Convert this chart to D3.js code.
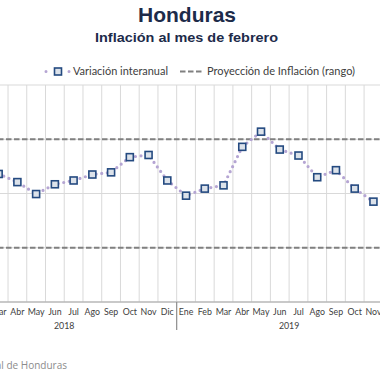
<!DOCTYPE html>
<html><head><meta charset="utf-8">
<script src="https://cdn.jsdelivr.net/npm/d3@7"></script>
<style>html,body{margin:0;padding:0;background:#fff;}svg{display:block;}</style>
</head><body><svg id="c" width="380" height="380"></svg>
<script>
const months = ["Ene","Feb","Mar","Abr","May","Jun","Jul","Ago","Sep","Oct","Nov","Dic"];
const years = ["2018","2019"];
const categories = years.flatMap(y => months.map(m => m + " " + y));
const seriesMonths = ["Mar 2018","Abr 2018","May 2018","Jun 2018","Jul 2018","Ago 2018","Sep 2018","Oct 2018","Nov 2018","Dic 2018",
  "Ene 2019","Feb 2019","Mar 2019","Abr 2019","May 2019","Jun 2019","Jul 2019","Ago 2019","Sep 2019","Oct 2019","Nov 2019"];
const seriesValues = [4.36,4.21,3.99,4.17,4.24,4.35,4.39,4.67,4.71,4.24,
  3.96,4.09,4.15,4.86,5.14,4.81,4.70,4.30,4.43,4.09,3.85];
const rangeLow = 3.0, rangeHigh = 5.0;
const yTicks = [2,3,4,5,6];

const svg = d3.select("#c");
const plotTop = 85, plotBottom = 302;
const x = d3.scaleBand().domain(categories).range([-48.2, -48.2 + 24*18.74]).padding(0);
const y = d3.scaleLinear().domain([2,6]).range([plotBottom, plotTop]);
const bw = x.bandwidth();

// Title
svg.append("text").attr("x",187).attr("y",22).attr("text-anchor","middle")
  .attr("font-family","Liberation Sans, Arial, sans-serif").attr("font-weight","bold")
  .attr("font-size",21).attr("fill","#1d2b4a").text("Honduras");
svg.append("text").attr("x",95).attr("y",41.5)
  .attr("font-family","Liberation Sans, Arial, sans-serif").attr("font-weight","bold")
  .attr("font-size",13.5).attr("fill","#1d2b4a")
  .attr("textLength",183).attr("lengthAdjust","spacingAndGlyphs").text("Inflación al mes de febrero");

// Legend
const lf = "Lato, 'Noto Sans', sans-serif";
const leg = svg.append("g");
leg.append("line").attr("x1",46).attr("x2",70).attr("y1",71.5).attr("y2",71.5)
  .attr("stroke","#b5a5d3").attr("stroke-width",3).attr("stroke-linecap","round").attr("stroke-dasharray","0,11.5");
leg.append("rect").attr("x",54.5).attr("y",68).attr("width",7).attr("height",7)
  .attr("fill","#dce2ea").attr("stroke","#244a80").attr("stroke-width",1.6);
leg.append("text").attr("x",73).attr("y",75).attr("font-family",lf).attr("font-size",10.5)
  .attr("fill","#404040").attr("textLength",95).attr("lengthAdjust","spacingAndGlyphs").text("Variación interanual");
leg.append("line").attr("x1",180).attr("x2",202).attr("y1",71.5).attr("y2",71.5)
  .attr("stroke","#808080").attr("stroke-width",2).attr("stroke-dasharray","5.5,2.5");
leg.append("text").attr("x",207).attr("y",75).attr("font-family",lf).attr("font-size",10.5)
  .attr("fill","#404040").attr("textLength",148).attr("lengthAdjust","spacingAndGlyphs").text("Proyección de Inflación (rango)");

// Gridlines
const grid = svg.append("g");
grid.selectAll("line.h").data(yTicks).join("line")
  .attr("x1",-50).attr("x2",420).attr("y1",d=>y(d)).attr("y2",d=>y(d))
  .attr("stroke","#d9d9d9").attr("stroke-width",1);
grid.selectAll("line.v").data(categories.slice(1)).join("line")
  .attr("x1",d=>x(d)).attr("x2",d=>x(d)).attr("y1",plotTop).attr("y2",plotBottom)
  .attr("stroke","#d9d9d9").attr("stroke-width",1);

// Range dashed lines
svg.append("g").selectAll("line").data([rangeLow, rangeHigh]).join("line")
  .attr("x1",-50).attr("x2",420).attr("y1",d=>y(d)).attr("y2",d=>y(d))
  .attr("stroke","#808080").attr("stroke-width",2).attr("stroke-dasharray","5.5,2.5");

// X axis
svg.append("line").attr("x1",-50).attr("x2",420).attr("y1",plotBottom).attr("y2",plotBottom)
  .attr("stroke","#a6a6a6").attr("stroke-width",1);
svg.append("line").attr("x1",x("Ene 2019")).attr("x2",x("Ene 2019")).attr("y1",plotBottom).attr("y2",330)
  .attr("stroke","#8c8c8c").attr("stroke-width",1.2);
svg.append("g").selectAll("text").data(categories.filter(c => x(c)+bw > 0 && x(c) < 380)).join("text")
  .attr("x",d=>x(d)+bw/2).attr("y",315).attr("text-anchor","middle")
  .attr("font-family",lf).attr("font-size",8.8).attr("fill","#404040")
  .text(d=>d.split(" ")[0]);
svg.append("g").selectAll("text").data(years).join("text")
  .attr("x",yr=>(x("Ene "+yr)+x("Dic "+yr)+bw)/2).attr("y",328.5).attr("text-anchor","middle")
  .attr("font-family",lf).attr("font-size",8.8).attr("fill","#404040").text(d=>d);

// Series
const pts = seriesMonths.map((m,i)=>({m, v:seriesValues[i]}));
svg.append("path").datum(pts)
  .attr("d", d3.line().x(d=>x(d.m)+bw/2).y(d=>y(d.v)))
  .attr("fill","none").attr("stroke","#b5a5d3").attr("stroke-width",3.2)
  .attr("stroke-linecap","round").attr("stroke-dasharray","0,5.6");
svg.append("g").selectAll("rect").data(pts).join("rect")
  .attr("x",d=>x(d.m)+bw/2-3.5).attr("y",d=>y(d.v)-3.5).attr("width",7).attr("height",7)
  .attr("fill","#dce2ea").attr("stroke","#244a80").attr("stroke-width",1.6);

// Source
svg.append("text").attr("x",67).attr("y",368.5).attr("text-anchor","end")
  .attr("font-family","'Open Sans', 'Noto Sans', sans-serif").attr("font-size",10)
  .attr("fill","#8c8c8c").text("Fuente: Banco Central de Honduras");
</script></body></html>
